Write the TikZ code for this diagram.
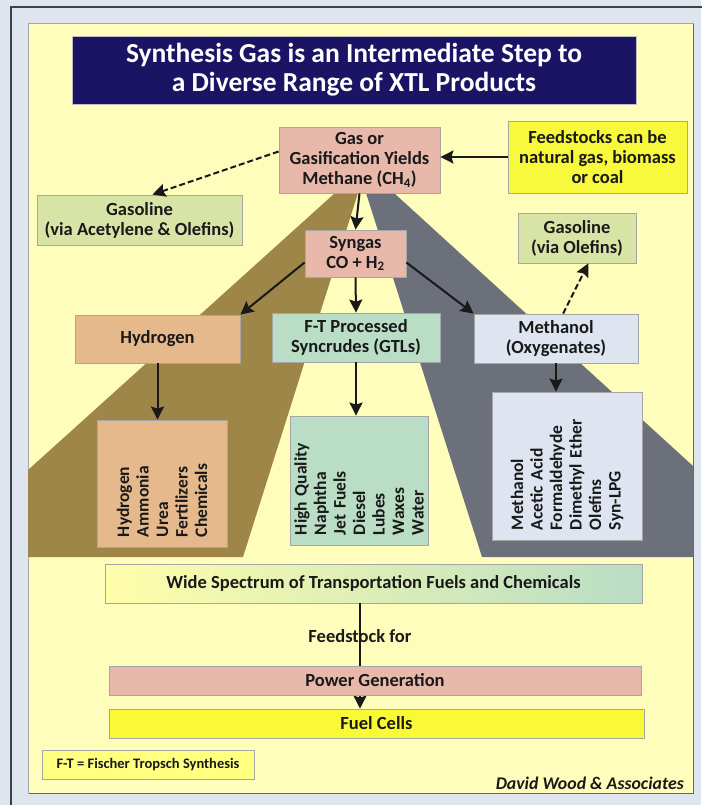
\documentclass[tikz,border=0pt]{standalone}
\usepackage{fontspec}
\setmainfont{Carlito}
\usepackage{tikz}
\usetikzlibrary{arrows.meta,calc,positioning}
\definecolor{xtlback}{HTML}{DEE5EF}
\definecolor{xtlpanel}{HTML}{FFFDBB}
\definecolor{xtlnavy}{HTML}{1B1464}
\definecolor{xtlsalmon}{HTML}{E8B9AA}
\definecolor{xtlyellow}{HTML}{F8F83C}
\definecolor{xtlgreen}{HTML}{D7E4A6}
\definecolor{xtltan}{HTML}{E6B98C}
\definecolor{xtlmint}{HTML}{B9DDC5}
\definecolor{xtllav}{HTML}{DEE4F0}
\definecolor{xtlbrown}{HTML}{9E8649}
\definecolor{xtlslate}{HTML}{6B707A}
\definecolor{xtllegend}{HTML}{FFFF80}

\begin{document}
\begin{tikzpicture}[x=1pt, y=-1pt,
  box/.style={draw=gray!70, line width=0.8pt, inner sep=0pt, align=center, text=black!90,
    font=\bfseries\fontsize{18.5}{20}\selectfont},
  prodbox/.style={box, rotate=90, align=left, inner xsep=10pt, inner ysep=0pt,
    font=\bfseries\fontsize{17.5}{19.5}\selectfont},
  flow/.style={-{Stealth[length=13pt, width=13pt, inset=2pt]}, line width=2pt, black!90},
  dflow/.style={flow, dash pattern=on 6pt off 3pt}
]
  % Frame and panel
  \fill[xtlback] (0,0) rectangle (701,805);
  \useasboundingbox (0,0) rectangle (701,805);
  \draw[black!75, line width=1.4pt] (11,7) rectangle (730,830);
  \fill[xtlpanel] (28,23) rectangle (693,793);
  \draw[gray!70, line width=0.8pt] (28,23) rectangle (693,793);
  \draw[black!60, line width=1pt] (693,24) -- (693,793) -- (29,793);

  % Wedges behind the boxes
  \fill[xtlbrown] (335,193) -- (358,193) -- (243,557) -- (28,557) -- (28,470) -- cycle;
  \fill[xtlslate] (366,193) -- (394,193) -- (693,466) -- (693,557) -- (482,557) -- cycle;

  % Title
  \node[box, fill=xtlnavy, draw=gray!50, text=white, minimum width=564, minimum height=68,
    font=\bfseries\fontsize{27.5}{29}\selectfont] (title) at (354,70)
    {Synthesis Gas is an Intermediate Step to\\a Diverse Range of XTL Products};

  % Top row
  \node[box, fill=xtlsalmon, minimum width=161, minimum height=66] (methane) at (359.5,160)
    {Gas or\\Gasification Yields\\Methane (CH\textsubscript{4})};
  \node[box, fill=xtlyellow, minimum width=179, minimum height=72] (feed) at (597.5,157)
    {Feedstocks can be\\natural gas, biomass\\or coal};
  \node[box, fill=xtlgreen, minimum width=205, minimum height=50] (gasacet) at (139.5,220)
    {Gasoline\\(via Acetylene \& Olefins)};
  \node[box, fill=xtlgreen, minimum width=118, minimum height=50] (gasolef) at (577,238)
    {Gasoline\\(via Olefins)};
  \node[box, fill=xtlsalmon, minimum width=101, minimum height=47] (syngas) at (355.5,253.5)
    {Syngas\\CO + H\textsubscript{2}};

  % Middle row
  \node[box, fill=xtltan, minimum width=165, minimum height=48] (hyd) at (157.5,339) {Hydrogen};
  \node[box, fill=xtlmint, minimum width=168, minimum height=49] (ft) at (356,337.5)
    {F-T Processed\\Syncrudes (GTLs)};
  \node[box, fill=xtllav, minimum width=164, minimum height=49] (meth) at (556,338.5)
    {Methanol\\(Oxygenates)};

  % Product boxes
  \node[prodbox, fill=xtltan, text width=107, minimum height=130] (hydprod) at (162,483.5)
    {Hydrogen\\Ammonia\\Urea\\Fertilizers\\Chemicals};
  \node[prodbox, fill=xtlmint, text width=109, minimum height=138] (ftprod) at (359,480.5)
    {High Quality\\Naphtha\\Jet Fuels\\Diesel\\Lubes\\Waxes\\Water};
  \node[prodbox, fill=xtllav, text width=128, minimum height=150] (methprod) at (567,466)
    {Methanol\\Acetic Acid\\Formaldehyde\\Dimethyl Ether\\Olefins\\Syn-LPG};

  % Bottom row
  \node[box, left color=xtlpanel!60!yellow!60, right color=xtlmint, minimum width=537, minimum height=39]
    (wide) at (373.5,583.5) {Wide Spectrum of Transportation Fuels and Chemicals};
  \node[font=\bfseries\fontsize{18.5}{20}\selectfont, text=black!90] (feedlbl) at (360,636) {Feedstock for};
  \node[box, fill=xtlyellow!90!yellow, minimum width=535, minimum height=29] (fuel) at (376.5,723.5) {Fuel Cells};
  \draw[flow] (wide.south -| feedlbl) -- (fuel.north -| feedlbl);
  \node[box, fill=xtlsalmon, minimum width=532, minimum height=29] (power) at (375,680.5) {Power Generation};

  % Legend and credit
  \node[box, fill=xtllegend, minimum width=212, minimum height=29,
    font=\bfseries\fontsize{14.5}{16}\selectfont] (legend) at (148,764.5) {F-T = Fischer Tropsch Synthesis};
  \node[anchor=east, inner sep=0pt, text=black!90, font=\bfseries\itshape\fontsize{17.8}{19}\selectfont]
    (credit) at (684,783) {David Wood \& Associates};

  % Arrows
  \draw[flow] (feed.west) -- (methane.east |- feed.west);
  \draw[dflow] (methane.174) -- (gasacet.63);
  \draw[flow] (methane.south) -- (syngas.north);
  \draw[flow] (syngas.190) -- (hyd.north east);
  \draw[flow] (syngas.south) -- (ft.north);
  \draw[flow] (syngas.350) -- (meth.north west);
  \draw[dflow] (meth.74) -- (gasolef.294);
  \draw[flow] (hyd.south) -- (hyd.south |- hydprod.east);
  \draw[flow] (ft.south) -- (ft.south |- ftprod.east);
  \draw[flow] (meth.south) -- (meth.south |- methprod.east);
\end{tikzpicture}
\end{document}
